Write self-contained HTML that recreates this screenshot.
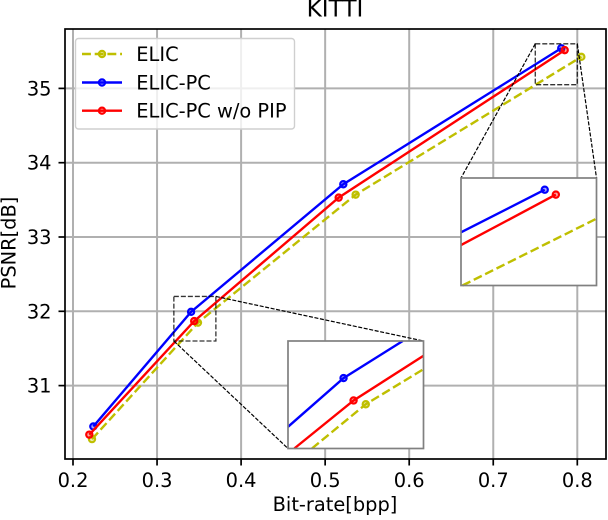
<!DOCTYPE html>
<html>
<head>
<meta charset="utf-8">
<style>
html,body{margin:0;padding:0;background:#fff;width:608px;height:520px;overflow:hidden}
svg{display:block}
text{font-family:"DejaVu Sans","Liberation Sans",sans-serif;fill:#000}
</style>
</head>
<body>
<svg id="chart" width="608" height="520" viewBox="0 0 608 520" xmlns="http://www.w3.org/2000/svg"></svg>
<script>
const xTickValues = [0.2, 0.3, 0.4, 0.5, 0.6, 0.7, 0.8];
const xTickLabels = ['0.2', '0.3', '0.4', '0.5', '0.6', '0.7', '0.8'];
const yTickValues = [31, 32, 33, 34, 35];
const yTickLabels = ['31', '32', '33', '34', '35'];
const seriesNames = ['ELIC', 'ELIC-PC', 'ELIC-PC w/o PIP'];
const elicRate = [0.2226, 0.3487, 0.5363, 0.8048];
const elicPsnr = [30.28, 31.847, 33.57, 35.425];
const pcRate = [0.2242, 0.3405, 0.5216, 0.7809];
const pcPsnr = [30.45, 31.993, 33.71, 35.54];
const noPipRate = [0.2194, 0.3442, 0.5161, 0.785];
const noPipPsnr = [30.34, 31.868, 33.53, 35.515];
const zoomAX = [0.32, 0.37];
const zoomAY = [31.6, 32.2];
const zoomBX = [0.75, 0.80];
const zoomBY = [35.05, 35.6];

const svg = document.getElementById('chart');
const NS = 'http://www.w3.org/2000/svg';
const plot = {l: 65, r: 606, t: 29, b: 459};
const LW = 2.4;
const FS = 19.4;
function X(v) { return 73 + (v - 0.2) * 840.5; }
function Y(v) { return 385.6 - (v - 31) * 74.3; }
function mk(parent, tag, attrs, text) {
  const e = document.createElementNS(NS, tag);
  for (const k in attrs) e.setAttribute(k, attrs[k]);
  if (text !== undefined) e.textContent = text;
  parent.appendChild(e);
  return e;
}
const styles = [
  {rate: elicRate, psnr: elicPsnr, color: '#bfbf00', dash: '8.9,3.8', name: 'elic'},
  {rate: pcRate, psnr: pcPsnr, color: '#0000ff', dash: '', name: 'elic-pc'},
  {rate: noPipRate, psnr: noPipPsnr, color: '#ff0000', dash: '', name: 'elic-pc-no-pip'}
];

// Liang-Barsky segment clip against a rectangle
function clipSegment(x0, y0, x1, y1, b) {
  let t0 = 0, t1 = 1;
  const dx = x1 - x0, dy = y1 - y0;
  const p = [-dx, dx, -dy, dy];
  const q = [x0 - b.x, b.x + b.w - x0, y0 - b.y, b.y + b.h - y0];
  for (let i = 0; i < 4; i++) {
    if (p[i] === 0) { if (q[i] < 0) return null; continue; }
    const r = q[i] / p[i];
    if (p[i] < 0) { if (r > t1) return null; if (r > t0) t0 = r; }
    else { if (r < t0) return null; if (r < t1) t1 = r; }
  }
  return [x0 + t0 * dx, y0 + t0 * dy, x0 + t1 * dx, y0 + t1 * dy];
}

// grid
const grid = mk(svg, 'g', {stroke: '#b0b0b0', 'stroke-width': 2, fill: 'none'});


xTickValues.forEach(function (v) {
  mk(grid, 'line', {x1: X(v), x2: X(v), y1: plot.t, y2: plot.b});
});
yTickValues.forEach(function (v) {
  mk(grid, 'line', {x1: plot.l, x2: plot.r, y1: Y(v), y2: Y(v)});
});

function drawSeries(parent, xf, yf, s, label, box) {
  const g = mk(parent, 'g', {});
  
  
  const pts = [];
  for (let i = 0; i < s.rate.length - 1; i++) {
    const c = clipSegment(xf(s.rate[i]), yf(s.psnr[i]), xf(s.rate[i + 1]), yf(s.psnr[i + 1]), box);
    if (!c) continue;
    if (!pts.length) pts.push(c[0] + ',' + c[1]);
    pts.push(c[2] + ',' + c[3]);
  }
  const attrs = {points: pts.join(' '), fill: 'none', stroke: s.color, 'stroke-width': LW};
  if (s.dash) attrs['stroke-dasharray'] = s.dash;
  mk(g, 'polyline', attrs);
  s.rate.forEach(function (r, i) {
    const cx = xf(r), cy = yf(s.psnr[i]);
    if (cx < box.x || cx > box.x + box.w || cy < box.y || cy > box.y + box.h) return;
    mk(g, 'circle', {cx: cx, cy: cy, r: 3.1, fill: s.color, 'fill-opacity': 0.35, stroke: s.color, 'stroke-width': 2.2});
  });
}

const mainBox = {x: plot.l, y: plot.t, w: plot.r - plot.l, h: plot.b - plot.t};
const mainSeries = mk(svg, 'g', {});


styles.forEach(function (s) { drawSeries(mainSeries, X, Y, s, 'series-' + s.name, mainBox); });

// zoom rectangles and connectors
function drawZoom(name, zx, zy, c1, c2) {
  const g = mk(svg, 'g', {fill: 'none', stroke: '#000'});
  
  
  mk(g, 'rect', {x: X(zx[0]), y: Y(zy[1]), width: X(zx[1]) - X(zx[0]), height: Y(zy[0]) - Y(zy[1]), 'stroke-width': 1.3, 'stroke-opacity': 0.8, 'stroke-dasharray': '5,2'});
  mk(g, 'line', {x1: c1[0], y1: c1[1], x2: c1[2], y2: c1[3], 'stroke-width': 1.2, 'stroke-dasharray': '4,1.6'});
  mk(g, 'line', {x1: c2[0], y1: c2[1], x2: c2[2], y2: c2[3], 'stroke-width': 1.2, 'stroke-dasharray': '4,1.6'});
}
function drawInset(name, zx, zy, box) {
  const g = mk(svg, 'g', {});
  
  
  mk(g, 'rect', {x: box.x, y: box.y, width: box.w, height: box.h, fill: '#fff'});
  const xf = function (v) { return box.x + (v - zx[0]) / (zx[1] - zx[0]) * box.w; };
  const yf = function (v) { return box.y + box.h - (v - zy[0]) / (zy[1] - zy[0]) * box.h; };
  styles.forEach(function (s) { drawSeries(g, xf, yf, s, name + '-series-' + s.name, box); });
  mk(g, 'rect', {x: box.x, y: box.y, width: box.w, height: box.h, fill: 'none', stroke: '#808080', 'stroke-width': 1.7});
}
const boxA = {x: 288, y: 341, w: 135.5, h: 107.5};
const boxB = {x: 461, y: 178, w: 135.5, h: 107.5};
drawZoom('zoom-a', zoomAX, zoomAY, [X(zoomAX[1]), Y(zoomAY[1]), boxA.x + boxA.w, boxA.y], [X(zoomAX[0]), Y(zoomAY[0]), boxA.x, boxA.y + boxA.h]);
drawZoom('zoom-b', zoomBX, zoomBY, [X(zoomBX[0]), Y(zoomBY[1]), boxB.x, boxB.y], [X(zoomBX[1]), Y(zoomBY[1]), boxB.x + boxB.w, boxB.y]);
drawInset('inset-a', zoomAX, zoomAY, boxA);
drawInset('inset-b', zoomBX, zoomBY, boxB);

// axes frame
const frame = mk(svg, 'rect', {x: plot.l, y: plot.t, width: plot.r - plot.l, height: plot.b - plot.t, fill: 'none', stroke: '#000', 'stroke-width': 1.7});



// ticks
xTickValues.forEach(function (v, i) {
  const t = mk(svg, 'line', {x1: X(v), x2: X(v), y1: plot.b, y2: plot.b + 6.5, stroke: '#000', 'stroke-width': 1.7});
  
  
  const l = mk(svg, 'text', {x: X(v), y: 487, 'text-anchor': 'middle', 'font-size': FS}, xTickLabels[i]);
  
  
});
yTickValues.forEach(function (v, i) {
  const t = mk(svg, 'line', {x1: plot.l - 6.5, x2: plot.l, y1: Y(v), y2: Y(v), stroke: '#000', 'stroke-width': 1.7});
  
  
  const l = mk(svg, 'text', {x: 51.5, y: Y(v) + 7, 'text-anchor': 'end', 'font-size': FS}, yTickLabels[i]);
  
  
});

// titles
const title = mk(svg, 'text', {x: 335, y: 16.7, 'text-anchor': 'middle', 'font-size': 23.2}, 'KITTI');


const xTitle = mk(svg, 'text', {x: 335, y: 511, 'text-anchor': 'middle', 'font-size': FS}, 'Bit-rate[bpp]');


const yTitle = mk(svg, 'text', {x: 0, y: 0, 'text-anchor': 'middle', 'font-size': FS, transform: 'translate(15.7 243) rotate(-90)'}, 'PSNR[dB]');



// legend
const legend = mk(svg, 'g', {});


mk(legend, 'rect', {x: 75.5, y: 38.5, width: 219, height: 90.5, rx: 3, ry: 3, fill: '#fff', 'fill-opacity': 0.8, stroke: '#cfcfcf', 'stroke-width': 1.4});
const legendRows = [54, 82.5, 110.7];
styles.forEach(function (s, i) {
  const row = mk(legend, 'g', {});
  
  
  const a = {x1: 82, x2: 122, y1: legendRows[i], y2: legendRows[i], stroke: s.color, 'stroke-width': LW};
  if (s.dash) a['stroke-dasharray'] = s.dash;
  mk(row, 'line', a);
  mk(row, 'circle', {cx: 102, cy: legendRows[i], r: 3.1, fill: s.color, 'fill-opacity': 0.35, stroke: s.color, 'stroke-width': 2.2});
  mk(row, 'text', {x: 136.3, y: legendRows[i] + 7, 'font-size': FS}, seriesNames[i]);
});
</script>
</body>
</html>
